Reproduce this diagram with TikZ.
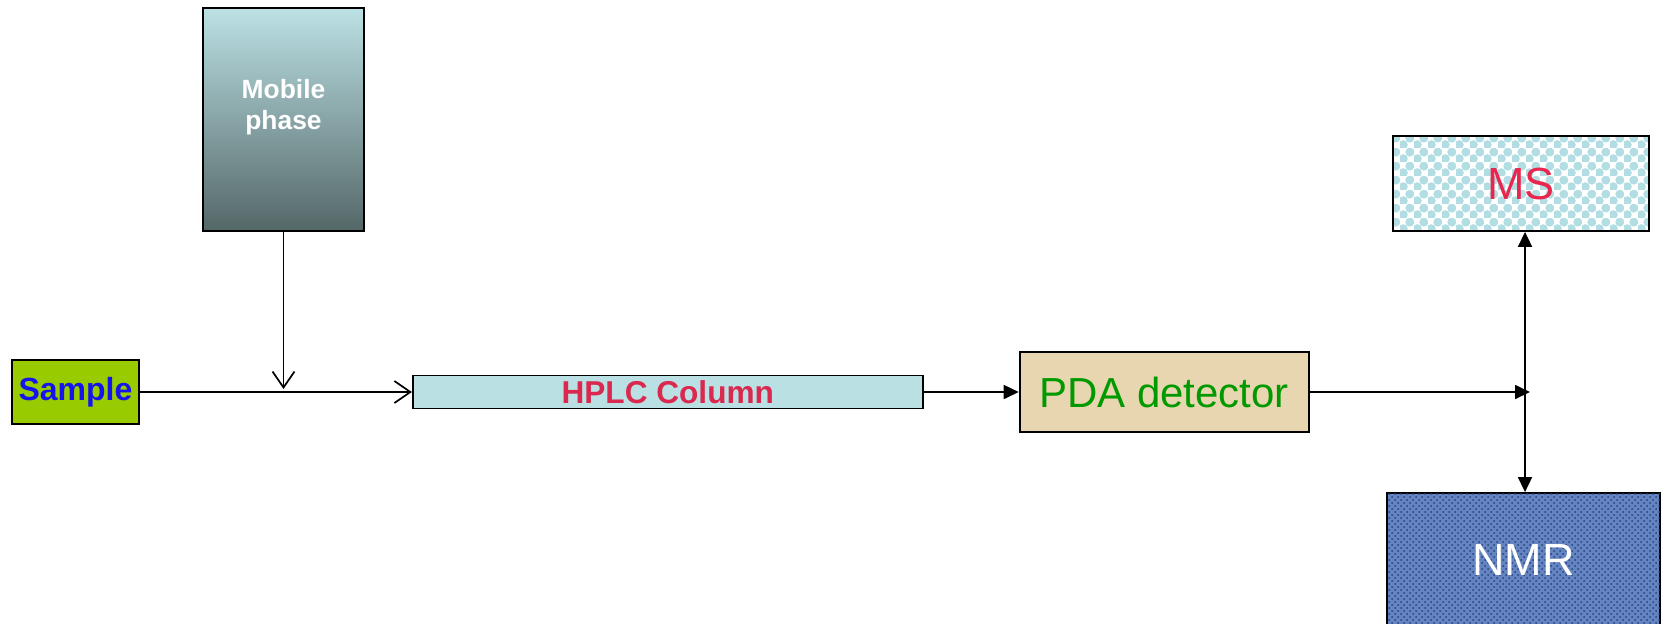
\documentclass[tikz,border=0pt]{standalone}
\usepackage{fontspec}
\setmainfont{Liberation Sans}
\usetikzlibrary{positioning,arrows.meta,patterns,patterns.meta}
\definecolor{mobiletop}{RGB}{188,225,229}
\definecolor{mobilebottom}{RGB}{84,103,103}
\definecolor{samplegreen}{RGB}{153,204,0}
\definecolor{sampleblue}{RGB}{20,20,235}
\definecolor{columnblue}{RGB}{186,224,228}
\definecolor{columnred}{RGB}{218,40,78}
\definecolor{pdatan}{RGB}{232,214,176}
\definecolor{pdagreen}{RGB}{0,153,0}
\definecolor{msblue}{RGB}{178,221,226}
\definecolor{msred}{RGB}{232,38,78}
\definecolor{nmrblue}{RGB}{100,133,194}
\definecolor{nmrdark}{RGB}{38,66,124}

% bubble texture for the MS box
\tikzdeclarepattern{
  name=bubbles,
  type=uncolored,
  bounding box={(0pt,0pt) and (7pt,7pt)},
  tile size={(7pt,7pt)},
  code={
    \fill (1.75pt,1.75pt) circle (2.4pt);
    \fill (5.25pt,5.25pt) circle (2.4pt);
  }
}

\begin{document}
\begin{tikzpicture}[x=0.5pt, y=-0.5pt, node distance=47.5pt,
    block/.style={draw, line width=0.9pt, inner sep=0pt},
    flow/.style={line width=0.85pt},
    opentip/.style={-{Straight Barb[length=8pt,width=11pt]}},
    solidtip/.style={-{Triangle[length=7.5pt,width=7pt]}}]
    \useasboundingbox (0,0) rectangle (1663,623);

    \node[block, fill=samplegreen, minimum width=63.5pt, minimum height=32pt,
          text=sampleblue, font=\fontsize{16}{18}\selectfont\bfseries] (sample) at (75.5,392) {Sample};
    \node[block, fill=columnblue, minimum width=255pt, minimum height=16.5pt,
          text=columnred, font=\fontsize{15.8}{18}\selectfont\bfseries, right=136pt of sample] (column) {HPLC Column};
    \node[block, fill=pdatan, minimum width=144.5pt, minimum height=40pt,
          text=pdagreen, font=\fontsize{21}{24}\selectfont, right=of column] (pda) {PDA detector};
    \node[block, top color=mobiletop, bottom color=mobilebottom, minimum width=80.5pt, minimum height=111.5pt,
          label={[align=center, text=white, font=\fontsize{13.2}{15.5}\selectfont\bfseries, yshift=6pt]center:Mobile\\phase}]
          (mobile) at (283.5,119.5) {};
    \node[block, pattern=bubbles, pattern color=msblue, minimum width=128pt, minimum height=47.5pt,
          text=msred, font=\fontsize{22.5}{26}\selectfont] (ms) at (1521,183.5) {MS};
    \node[block, fill=nmrblue, postaction={pattern=crosshatch dots, pattern color=nmrdark},
          minimum width=136.5pt, minimum height=67pt,
          text=white, font=\fontsize{22.5}{26}\selectfont] (nmr) at (1523.5,560) {NMR};

    \coordinate (inlet) at (mobile.south |- sample);
    \coordinate (split) at (1525,392);

    \draw[flow, opentip] (sample) -- (column);
    \draw[flow, opentip, shorten >=1.5pt] (mobile) -- (inlet);
    \draw[flow, solidtip] (column) -- (pda);
    \draw[flow, solidtip, shorten >=-2.5pt] (pda) -- (split);
    \draw[flow, {Triangle[length=7.5pt,width=7pt]}-{Triangle[length=7.5pt,width=7pt]}]
        (split |- ms.south) -- (split |- nmr.north);
\end{tikzpicture}
\end{document}
